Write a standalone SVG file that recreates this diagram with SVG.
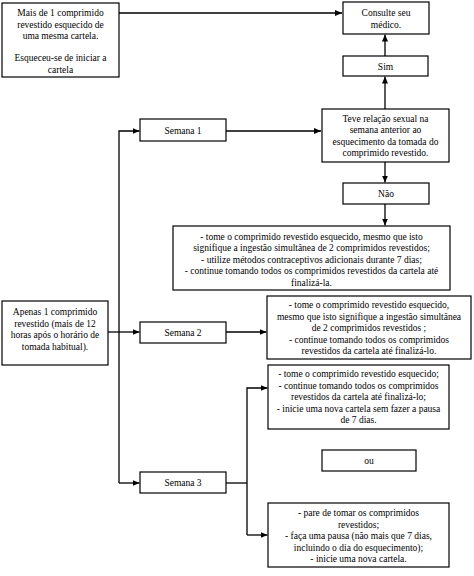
<svg xmlns="http://www.w3.org/2000/svg" width="474" height="576" viewBox="0 0 474 576">
<style>
.b{fill:#fff;stroke:#000;stroke-width:1.2}
.t{font-family:'Liberation Serif','Times New Roman',Times,serif;font-size:9.5px;fill:#000;text-anchor:middle}
.c{fill:none;stroke:#000;stroke-width:1.3}
</style>
<defs>
<marker id="a" markerWidth="7" markerHeight="6" refX="7" refY="3" orient="auto" markerUnits="userSpaceOnUse">
<path d="M0,0 L7,3 L0,6 Z" fill="#000"/>
</marker>
</defs>
<rect width="474" height="576" fill="#fff"/>
<g id="connectors">
<path class="c" d="M119,13 H342" marker-end="url(#a)"/>
<path class="c" d="M385,56 V34.5" marker-end="url(#a)"/>
<path class="c" d="M385,109 V76.5" marker-end="url(#a)"/>
<path class="c" d="M385,162 V182.5" marker-end="url(#a)"/>
<path class="c" d="M385,204 V225.5" marker-end="url(#a)"/>
<path class="c" d="M226,131 H321" marker-end="url(#a)"/>
<path class="c" d="M119,483 V131 H139.5" marker-end="url(#a)"/>
<path class="c" d="M108,332 H139.5" marker-end="url(#a)"/>
<path class="c" d="M226,332 H266.5" marker-end="url(#a)"/>
<path class="c" d="M119,483 H139.5" marker-end="url(#a)"/>
<path class="c" d="M226,483 H247"/>
<path class="c" d="M247,535 V388 H267.5" marker-end="url(#a)"/>
<path class="c" d="M247,535 H267.5" marker-end="url(#a)"/>
</g>
<g font-family="Liberation Serif, serif">
<g id="n1">
<rect class="b" x="2" y="3" width="117" height="74"/>
<text class="t" x="60.5" y="16">Mais de 1 comprimido</text>
<text class="t" x="60.5" y="27.5">revestido esquecido de</text>
<text class="t" x="60.5" y="39">uma mesma cartela.</text>
<text class="t" x="60.5" y="61">Esqueceu-se de iniciar a</text>
<text class="t" x="60.5" y="72.5">cartela</text>
</g>
<g id="consulte">
<rect class="b" x="343" y="2" width="86" height="32"/>
<text class="t" x="386" y="16">Consulte seu</text>
<text class="t" x="386" y="27.5">médico.</text>
</g>
<g id="sim">
<rect class="b" x="343" y="56" width="85" height="20"/>
<text class="t" x="385.5" y="69.5">Sim</text>
</g>
<g id="teve">
<rect class="b" x="322" y="109" width="127" height="53"/>
<text class="t" x="385.5" y="121.5">Teve relação sexual na</text>
<text class="t" x="385.5" y="133">semana anterior ao</text>
<text class="t" x="385.5" y="144.5">esquecimento da tomada do</text>
<text class="t" x="385.5" y="156">comprimido revestido.</text>
</g>
<g id="nao">
<rect class="b" x="343" y="183" width="86" height="21"/>
<text class="t" x="386" y="197">Não</text>
</g>
<g id="sem1box">
<rect class="b" x="173" y="226" width="277" height="64"/>
<text class="t" x="311.5" y="239.5">- tome o comprimido revestido esquecido, mesmo que isto</text>
<text class="t" x="311.5" y="251">signifique a ingestão simultânea de 2 comprimidos revestidos;</text>
<text class="t" x="311.5" y="262.5">- utilize métodos contraceptivos adicionais durante 7 dias;</text>
<text class="t" x="311.5" y="274">- continue tomando todos os comprimidos revestidos da cartela até</text>
<text class="t" x="311.5" y="285.5">finalizá-la.</text>
</g>
<g id="semana1">
<rect class="b" x="140" y="119" width="86" height="22"/>
<text class="t" x="183" y="133.5">Semana 1</text>
</g>
<g id="apenas">
<rect class="b" x="2" y="301" width="106" height="64"/>
<text class="t" x="55" y="315">Apenas 1 comprimido</text>
<text class="t" x="55" y="326.5">revestido (mais de 12</text>
<text class="t" x="55" y="338">horas após o horário de</text>
<text class="t" x="55" y="349.5">tomada habitual).</text>
</g>
<g id="semana2">
<rect class="b" x="140" y="322" width="86" height="21"/>
<text class="t" x="183" y="335.5">Semana 2</text>
</g>
<g id="sem2box">
<rect class="b" x="267" y="296" width="204" height="63"/>
<text class="t" x="369" y="308">- tome o comprimido revestido esquecido,</text>
<text class="t" x="369" y="319.5">mesmo que isto signifique a ingestão simultânea</text>
<text class="t" x="369" y="331">de 2 comprimidos revestidos ;</text>
<text class="t" x="369" y="342.5">- continue tomando todos os comprimidos</text>
<text class="t" x="369" y="354">revestidos da cartela até finalizá-lo.</text>
</g>
<g id="sem3a">
<rect class="b" x="268" y="365" width="181" height="64"/>
<text class="t" x="358.5" y="377">- tome o comprimido revestido esquecido;</text>
<text class="t" x="358.5" y="388.5">- continue tomando todos os comprimidos</text>
<text class="t" x="358.5" y="400">revestidos da cartela até finalizá-lo;</text>
<text class="t" x="358.5" y="411.5">- inicie uma nova cartela sem fazer a pausa</text>
<text class="t" x="358.5" y="423">de 7 dias.</text>
</g>
<g id="ou">
<rect class="b" x="322" y="450" width="94" height="21"/>
<text class="t" x="369" y="464">ou</text>
</g>
<g id="semana3">
<rect class="b" x="140" y="472" width="86" height="21"/>
<text class="t" x="183" y="486">Semana 3</text>
</g>
<g id="sem3b">
<rect class="b" x="268" y="503" width="181" height="64"/>
<text class="t" x="358.5" y="516">- pare de tomar os comprimidos</text>
<text class="t" x="358.5" y="527.5">revestidos;</text>
<text class="t" x="358.5" y="539">- faça uma pausa (não mais que 7 dias,</text>
<text class="t" x="358.5" y="550.5">incluindo o dia do esquecimento);</text>
<text class="t" x="358.5" y="562">- inicie uma nova cartela.</text>
</g>
</g>
</svg>
